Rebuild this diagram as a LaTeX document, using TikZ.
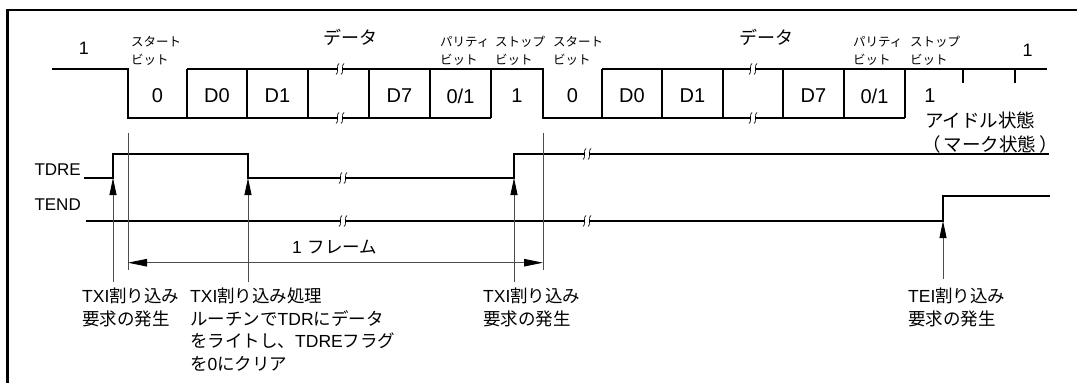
\documentclass[tikz,border=0pt]{standalone}
\usepackage{fontspec}
\setmainfont{Liberation Sans}
\newfontfamily\jp{Noto Sans CJK JP}
\usetikzlibrary{arrows.meta}
\newcommand{\lat}[1]{{\rmfamily #1}}
\newcommand{\wavebreak}[2]{%
  \fill[white] ({#1-2.5},{#2-2}) rectangle ({#1+2.5},{#2+2});
  \draw[line width=0.7pt] ({#1-1},{#2-5.5}) .. controls ({#1-4},{#2-5.5}) and ({#1-1},{#2+5.5}) .. ({#1-4},{#2+5.5});
  \draw[line width=0.7pt] ({#1+4},{#2-5.5}) .. controls ({#1+1},{#2-5.5}) and ({#1+4},{#2+5.5}) .. ({#1+1},{#2+5.5});}

\begin{document}
\begin{tikzpicture}[x=1pt, y=-1pt,
    wave/.style={line width=1.3pt, line join=miter},
    markline/.style={line width=0.8pt, black!70},
    evt/.style={line width=0.8pt, black!70, -{Triangle[length=17pt, width=7pt, color=black]}},
    span/.style={line width=0.8pt, black!70,
      {Triangle[length=19pt, width=7.5pt, color=black]}-{Triangle[length=19pt, width=7.5pt, color=black]}},
    bitlbl/.style={font=\fontsize{20}{20}\selectfont, inner sep=0pt},
    bitname/.style={font=\jp\fontsize{12.5}{18}\selectfont, align=left, inner sep=0pt, anchor=west},
    datlbl/.style={font=\jp\fontsize{18}{18}\selectfont, inner sep=0pt},
    sig/.style={font=\fontsize{17}{17}\selectfont, inner sep=0pt, anchor=east},
    note/.style={font=\jp\fontsize{17.5}{22.5}\selectfont, align=left, inner sep=0pt, anchor=north west}]
  \useasboundingbox (0,0) rectangle (1077,383);
  \draw[line width=2.6pt] (7.5,383) -- (7.5,10) -- (1077,10);

  % serial frame
  \draw[wave] (52,69) -- (128,69) -- (128,118) -- (491,118);
  \draw[wave] (187,69) -- (543,69) -- (543,118) -- (905,118);
  \draw[wave] (602,69) -- (1047,69);
  \foreach \x in {187,247,308,369,430,491,602,662,723,783,844,905}
    \draw[wave] (\x,69) -- (\x,118);
  \foreach \x in {963,1015}
    \draw[wave] (\x,69) -- (\x,83);
  \foreach \x in {340,753}{
    \wavebreak{\x}{69}
    \wavebreak{\x}{118}}

  \foreach \x/\t [count=\i] in {157.5/0, 217/D0, 277.5/D1, 399.5/D7, 460.5/{0/1}, 517/1,
      572.5/0, 632/D0, 692.5/D1, 813.5/D7, 874.5/{0/1}, 930/1}
    \node[bitlbl] (bit\i) at (\x,96) {\t};
  \node[font=\fontsize{18}{18}\selectfont, inner sep=0pt] (idleA) at (84,48.5) {1};
  \node[font=\fontsize{18}{18}\selectfont, inner sep=0pt] (idleB) at (1027.5,50.5) {1};

  \node[bitname] (startA) at (131,51) {スタート\\ビット};
  \node[bitname] (parA) at (440,51) {パリティ\\ビット};
  \node[bitname] (stopA) at (495,51) {ストップ\\ビット};
  \node[bitname] (startB) at (553,51) {スタート\\ビット};
  \node[bitname] (parB) at (853,51) {パリティ\\ビット};
  \node[bitname] (stopB) at (910,51) {ストップ\\ビット};
  \node[datlbl] (datA) at (350,37) {データ};
  \node[datlbl] (datB) at (766,37) {データ};

  \node[font=\jp\fontsize{18.5}{18.5}\selectfont, inner sep=0pt, anchor=west] (idle) at (925,120) {アイドル状態};
  \node[font=\jp\fontsize{18.5}{18.5}\selectfont, inner sep=0pt, anchor=east] (mark) at (1058,144) {（\hspace{3pt}マーク状態\hspace{3pt}）};

  % flags
  \node[sig] (tdre) at (81,170) {TDRE};
  \node[sig] (tend) at (81,205) {TEND};
  \draw[wave] (84,178) -- (113,178) -- (113,154) -- (248,154) -- (248,178) -- (514,178) -- (514,154) -- (1049,154);
  \draw[wave] (86,221) -- (943,221) -- (943,196) -- (1050,196);
  \foreach \x in {343,587}{
    \wavebreak{\x}{221}}
  \wavebreak{343}{178}
  \wavebreak{587}{154}

  % frame length
  \coordinate (fstart) at (128,262.7);
  \coordinate (fend) at (543,262.7);
  \draw[markline] (128,133) -- (128,270);
  \draw[markline] (543,133) -- (543,270);
  \draw[span] (fstart) -- (fend);
  \node[font=\jp\fontsize{17.5}{17.5}\selectfont, inner sep=0pt, anchor=west] (frm) at (292,247) {\lat{1}\hspace{6pt}フレーム};

  % interrupts
  \coordinate (txiA) at (113,178);
  \coordinate (txiB) at (248,178);
  \coordinate (txiC) at (514,178);
  \coordinate (tei) at (943,221);
  \draw[evt] (113,282) -- (txiA);
  \draw[evt] (248,282) -- (txiB);
  \draw[evt] (514,282) -- (txiC);
  \draw[evt] (943,279) -- (tei);

  \node[note] (noteA) at (82,288) {\lat{TXI}割り込み\\要求の発生};
  \node[note] (noteB) at (190,288) {\lat{TXI}割り込み処理\\ルーチンで\lat{TDR}にデータ\\をライトし、\lat{TDRE}フラグ\\を\lat{0}にクリア};
  \node[note] (noteC) at (483,288) {\lat{TXI}割り込み\\要求の発生};
  \node[note] (noteD) at (908,288) {\lat{TEI}割り込み\\要求の発生};
\end{tikzpicture}
\end{document}
